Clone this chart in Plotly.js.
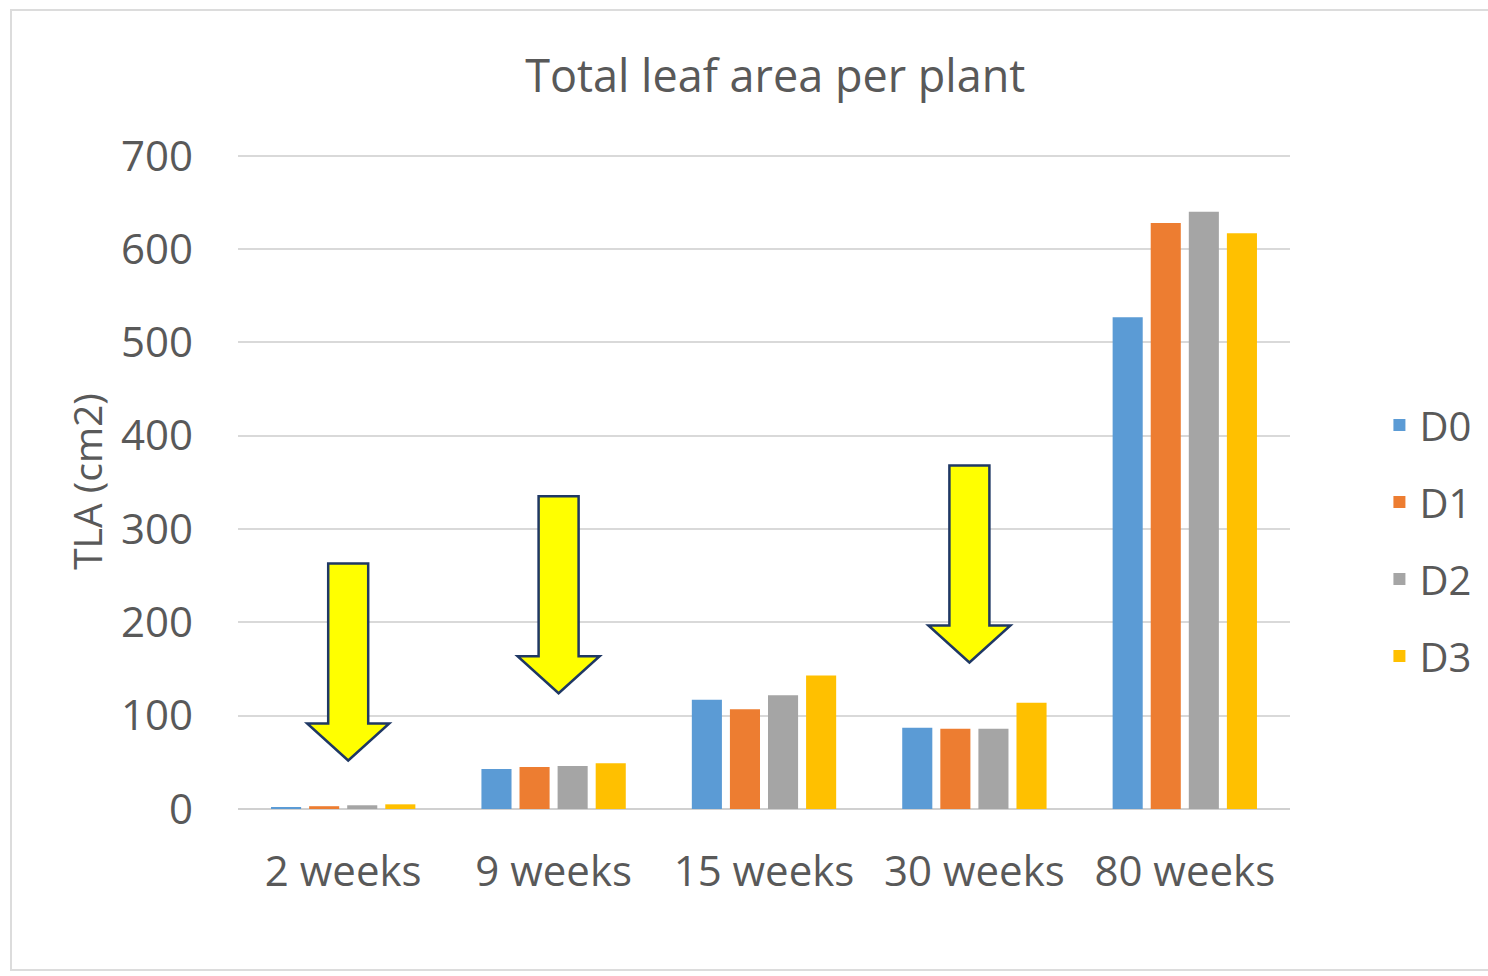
<!DOCTYPE html>
<html>
<head>
<meta charset="utf-8">
<script src="https://cdn.plot.ly/plotly-3.0.1.min.js"></script>
<style>
html,body{margin:0;padding:0;background:#fff;}
#frame{position:absolute;left:10px;top:9px;width:1490px;height:962px;border:2px solid #dcdcdc;box-sizing:border-box;}
#chart{position:absolute;left:0;top:0;width:1488px;height:976px;}
</style>
</head>
<body>
<div id="frame"></div>
<div id="chart"></div>
<script>
const categories = ["2 weeks", "9 weeks", "15 weeks", "30 weeks", "80 weeks"];
const seriesNames = ["D0", "D1", "D2", "D3"];
const D0 = [2, 43, 117, 87, 527];
const D1 = [3, 45, 107, 86, 628];
const D2 = [4, 46, 122, 86, 640];
const D3 = [5, 49, 143, 114, 617];
const colors = ["#5b9bd5", "#ed7d31", "#a5a5a5", "#ffc000"];
const yTicks = [0, 100, 200, 300, 400, 500, 600, 700];
// arrow annotations: category index and data value of the arrow tip
const arrowCats = [0, 1, 3];
const arrowTips = [52, 124, 157];
const arrowOffsets = [5, 5, -5];

const values = [D0, D1, D2, D3];
const traces = values.map((v, i) => ({
  type: "bar",
  name: seriesNames[i],
  x: categories,
  y: v,
  marker: {color: colors[i]},
  legendgroup: "g" + i,
  hoverinfo: "x+y+name"
}));

function arrowPath(dx) {
  const pts = [[-20,197],[20,197],[20,37],[41,37],[0,0],[-41,37],[-20,37]];
  return "M" + pts.map(p => (p[0]+dx) + "," + p[1]).join(" L") + " Z";
}
const shapes = arrowCats.map((c, i) => ({
  type: "path",
  xref: "x", yref: "y",
  xsizemode: "pixel", ysizemode: "pixel",
  xanchor: c, yanchor: arrowTips[i],
  path: arrowPath(arrowOffsets[i]),
  fillcolor: "#ffff00",
  line: {color: "#1f3864", width: 2.5},
  layer: "above"
}));

const font = "'Open Sans', 'Liberation Sans', sans-serif";
const layout = {
  width: 1488, height: 976,
  margin: {l: 238, r: 198, t: 154, b: 167},
  paper_bgcolor: "rgba(0,0,0,0)",
  plot_bgcolor: "rgba(0,0,0,0)",
  font: {family: font, color: "#595959", size: 42},
  title: {text: "Total leaf area per plant", x: 0.521, xref: "container", y: 0.922, yanchor: "middle", font: {size: 45, color: "#595959"}},
  barmode: "group",
  bargap: 0.276,
  bargroupgap: 0.21,
  showlegend: true,
  legend: {x: 1.085, xanchor: "left", y: 0.41, yanchor: "middle", font: {size: 40, color: "#595959"}, traceorder: "grouped", tracegroupgap: 22, itemwidth: 30},
  xaxis: {type: "category", showgrid: false, showline: false, zeroline: false, ticks: "", ticklabelstandoff: 34, tickfont: {size: 42}},
  yaxis: {range: [0, 702], tickvals: yTicks, showgrid: true, gridcolor: "#d9d9d9", gridwidth: 2, zeroline: true, zerolinecolor: "#d0d0d0", zerolinewidth: 2, showline: false, ticks: "", ticklabelstandoff: 44, tickfont: {size: 42},
    title: {text: "TLA (cm2)", standoff: 6, font: {size: 39, color: "#595959"}}},
  shapes: shapes
};
Plotly.newPlot("chart", traces, layout, {displayModeBar: false, responsive: false});
</script>
</body>
</html>
